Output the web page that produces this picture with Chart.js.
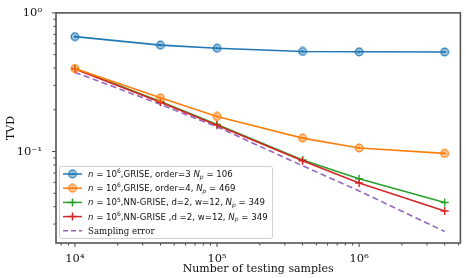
<!DOCTYPE html>
<html>
<head>
<meta charset="utf-8">
<script src="https://cdn.jsdelivr.net/npm/chart.js@4/dist/chart.umd.min.js"></script>
<style>
  html, body { margin: 0; padding: 0; background: #fff; }
  #wrap { width: 466px; height: 278px; }
</style>
</head>
<body>
<div id="wrap"><canvas id="chart" width="466" height="278"></canvas></div>
<script>
const samples = [1e4, 4e4, 1e5, 4e5, 1e6, 4e6];
const griseOrder3 = [0.674, 0.586, 0.556, 0.527, 0.524, 0.522];
const griseOrder4 = [0.397, 0.244, 0.179, 0.125, 0.106, 0.097];
const nnGrise1e5 = [0.398, 0.230, 0.157, 0.087, 0.0636, 0.0429];
const nnGrise1e6 = [0.394, 0.227, 0.155, 0.0857, 0.0593, 0.0373];
const samplingError = [0.373, 0.219, 0.151, 0.079, 0.052, 0.0265];

const xTicks = [8e3, 9e3, 1e4, 2e4, 3e4, 4e4, 5e4, 6e4, 7e4, 8e4, 9e4, 1e5, 2e5, 3e5, 4e5, 5e5, 6e5, 7e5, 8e5, 9e5, 1e6, 2e6, 3e6, 4e6, 5e6];
const yTicks = [0.03, 0.04, 0.05, 0.06, 0.07, 0.08, 0.09, 0.1, 0.2, 0.3, 0.4, 0.5, 0.6, 0.7, 0.8, 0.9, 1];
const majorLabels = { 1e4: '10\u2074', 1e5: '10\u2075', 1e6: '10\u2076', 1: '10\u2070', 0.1: '10\u207B\u00B9' };

const blue = '#1f77b4', orange = '#ff7f0e', green = '#2ca02c', red = '#d62728', purple = '#9467bd';

// circle-dot marker like matplotlib's odot
function odot(color) {
  const c = document.createElement('canvas');
  c.width = 10; c.height = 10;
  const g = c.getContext('2d');
  g.strokeStyle = color;
  g.fillStyle = color;
  g.globalAlpha = 0.4;
  g.beginPath(); g.arc(5, 5, 3.8, 0, Math.PI * 2); g.fill();
  g.globalAlpha = 1;
  g.lineWidth = 1.2;
  g.beginPath(); g.arc(5, 5, 3.8, 0, Math.PI * 2); g.stroke();
  g.beginPath(); g.arc(5, 5, 1.3, 0, Math.PI * 2); g.fill();
  return c;
}
const blueDot = odot(blue), orangeDot = odot(orange);

const legendRows = [
  { color: blue, marker: blueDot, parts: [['n', 'i'], [' = 10', 'r'], ['6', 'sup'], [',GRISE, order=3 ', 'r'], ['N', 'i'], ['p', 'sub'], [' = 106', 'r']] },
  { color: orange, marker: orangeDot, parts: [['n', 'i'], [' = 10', 'r'], ['6', 'sup'], [',GRISE, order=4, ', 'r'], ['N', 'i'], ['p', 'sub'], [' = 469', 'r']] },
  { color: green, marker: 'cross', parts: [['n', 'i'], [' = 10', 'r'], ['5', 'sup'], [',NN-GRISE, d=2, w=12, ', 'r'], ['N', 'i'], ['p', 'sub'], [' = 349', 'r']] },
  { color: red, marker: 'cross', parts: [['n', 'i'], [' = 10', 'r'], ['6', 'sup'], [',NN-GRISE ,d =2, w=12, ', 'r'], ['N', 'i'], ['p', 'sub'], [' = 349', 'r']] },
  { color: purple, dash: true, parts: [['Sampling error', 'serif']] }
];

const frameAndTicks = {
  id: 'frameAndTicks',
  afterDatasetsDraw(chart) {
    const { ctx, chartArea: a, scales } = chart;
    ctx.save();
    ctx.strokeStyle = '#444';
    ctx.lineWidth = 1;
    xTicks.forEach(v => {
      const x = scales.x.getPixelForValue(v);
      const len = majorLabels[v] ? 4 : 2.5;
      ctx.beginPath(); ctx.moveTo(x, a.bottom); ctx.lineTo(x, a.bottom + len); ctx.stroke();
    });
    yTicks.forEach(v => {
      const y = scales.y.getPixelForValue(v);
      const len = majorLabels[v] ? 4 : 2.5;
      ctx.beginPath(); ctx.moveTo(a.left, y); ctx.lineTo(a.left - len, y); ctx.stroke();
    });
    ctx.strokeStyle = '#555';
    ctx.lineWidth = 1.6;
    ctx.strokeRect(a.left, a.top, a.right - a.left, a.bottom - a.top);
    ctx.restore();
  }
};

const legendBox = {
  id: 'legendBox',
  afterDraw(chart) {
    const ctx = chart.ctx;
    const bx = 59, by = 166, bw = 213, bh = 72;
    ctx.save();
    ctx.fillStyle = 'rgba(255,255,255,0.85)';
    ctx.strokeStyle = '#d0d0d0';
    ctx.lineWidth = 1;
    ctx.beginPath();
    ctx.roundRect(bx + 0.5, by + 0.5, bw, bh, 2);
    ctx.fill(); ctx.stroke();
    legendRows.forEach((row, i) => {
      const y = 174 + i * 14.2;
      ctx.strokeStyle = row.color;
      ctx.lineWidth = 1.5;
      ctx.setLineDash(row.dash ? [5, 3] : []);
      ctx.beginPath(); ctx.moveTo(63, y); ctx.lineTo(82, y); ctx.stroke();
      ctx.setLineDash([]);
      if (row.marker === 'cross') {
        ctx.beginPath();
        ctx.moveTo(72.5 - 4, y); ctx.lineTo(72.5 + 4, y);
        ctx.moveTo(72.5, y - 4); ctx.lineTo(72.5, y + 4);
        ctx.stroke();
      } else if (row.marker) {
        ctx.drawImage(row.marker, 72.5 - 5, y - 5);
      }
      let x = 88;
      ctx.fillStyle = '#111';
      ctx.textBaseline = 'alphabetic';
      row.parts.forEach(([t, s]) => {
        let font = '8.6px "DejaVu Sans"', dy = 3;
        if (s === 'i') font = 'oblique 8.6px "DejaVu Sans"';
        if (s === 'sup') { font = '6px "DejaVu Sans"'; dy = -0.8; }
        if (s === 'sub') { font = 'oblique 6px "DejaVu Sans"'; dy = 4.8; }
        if (s === 'serif') font = '8.6px "DejaVu Serif"';
        ctx.font = font;
        ctx.fillText(t, x, y + dy);
        x += ctx.measureText(t).width;
      });
    });
    ctx.restore();
  }
};

function series(label, values, color, style, order) {
  const base = {
    label: label,
    data: samples.map((s, i) => ({ x: s, y: values[i] })),
    borderColor: color,
    backgroundColor: color,
    borderWidth: 1.6,
    tension: 0,
    order: order
  };
  if (style === 'odot') {
    base.pointStyle = color === blue ? blueDot : orangeDot;
    base.pointRadius = 4;
  } else if (style === 'cross') {
    base.pointStyle = 'cross';
    base.pointRadius = 4;
    base.pointBorderWidth = 1.4;
  } else {
    base.pointRadius = 0;
    base.borderDash = [6, 3.5];
  }
  return base;
}

new Chart(document.getElementById('chart'), {
  type: 'line',
  data: {
    datasets: [
      series('GRISE order=3', griseOrder3, blue, 'odot', 1),
      series('GRISE order=4', griseOrder4, orange, 'odot', 2),
      series('NN-GRISE n=1e5', nnGrise1e5, green, 'cross', 4),
      series('NN-GRISE n=1e6', nnGrise1e6, red, 'cross', 3),
      series('Sampling error', samplingError, purple, 'dash', 5)
    ]
  },
  options: {
    responsive: false,
    animation: false,
    layout: { padding: { top: 5, right: 3, left: 0, bottom: 0 } },
    plugins: { legend: { display: false }, tooltip: { enabled: false } },
    scales: {
      x: {
        type: 'logarithmic',
        min: 7360,
        max: 5.16e6,
        afterFit: s => { s.height = 35; },
        afterBuildTicks: s => { s.ticks = xTicks.map(v => ({ value: v })); },
        grid: { display: false },
        border: { display: false },
        ticks: {
          autoSkip: false,
          maxRotation: 0,
          padding: 1,
          color: '#111',
          font: { family: 'DejaVu Serif', size: 11.5 },
          callback: v => majorLabels[v] || ''
        },
        title: {
          display: true,
          text: 'Number of testing samples',
          color: '#111',
          font: { family: 'DejaVu Serif', size: 11 },
          padding: { top: 0, bottom: 2 }
        }
      },
      y: {
        type: 'logarithmic',
        min: 0.0219,
        max: 1,
        afterFit: s => { s.width = 56; },
        afterBuildTicks: s => { s.ticks = yTicks.map(v => ({ value: v })); },
        grid: { display: false },
        border: { display: false },
        ticks: {
          autoSkip: false,
          padding: 6,
          color: '#111',
          font: { family: 'DejaVu Serif', size: 11.5 },
          callback: v => majorLabels[v] || ''
        },
        title: {
          display: true,
          text: 'TVD',
          color: '#111',
          font: { family: 'DejaVu Serif', size: 11 },
          padding: { top: 5, bottom: 0 }
        }
      }
    }
  },
  plugins: [frameAndTicks, legendBox]
});
</script>
</body>
</html>
